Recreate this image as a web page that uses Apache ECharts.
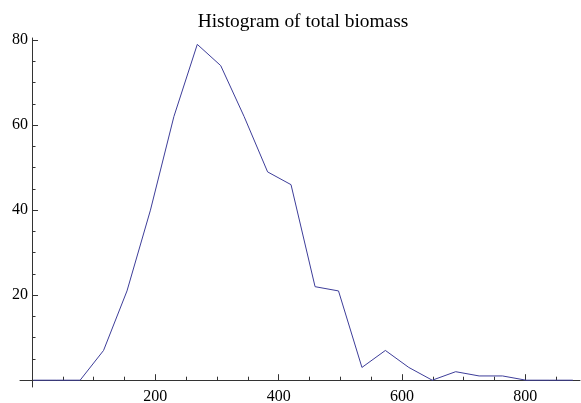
<!DOCTYPE html>
<html>
<head>
<meta charset="utf-8">
<script src="https://cdn.jsdelivr.net/npm/echarts@6/dist/echarts.min.js"></script>
<style>
  html, body { margin: 0; padding: 0; background: #fff; }
  #main { width: 581px; height: 403px; }
</style>
</head>
<body>
<div id="main"></div>
<script>
// bin positions (total biomass) and counts
var binX = [2, 40, 78, 116, 154, 192, 230, 268, 306, 344, 382, 420,
            459, 497, 535, 573, 611, 649, 687, 725, 763, 801, 839, 877];
var counts = [0, 0, 0, 7, 21, 40, 62, 79, 74, 62, 49, 46,
              22, 21, 3, 7, 3, 0, 2, 1, 1, 0, 0, 0];

// tick labels / tick positions
var xMajor = [200, 400, 600, 800];
var xMinor = [50, 100, 150, 250, 300, 350, 450, 500, 550, 650, 700, 750, 850];
var yMajor = [20, 40, 60, 80];
var yMinor = [5, 10, 15, 25, 30, 35, 45, 50, 55, 65, 70, 75];

var axisColor = '#333';
var font = 'Liberation Serif';

var myChart = echarts.init(document.getElementById('main'), null, { renderer: 'canvas' });

var pts = [];
for (var i = 0; i < binX.length; i++) {
  pts.push([binX[i], counts[i]]);
}

// labels sit at the grid edge, not on the zero line, so margins are negative
var option = {
  animation: false,
  title: {
    text: 'Histogram of total biomass',
    left: 298,
    top: 7,
    textAlign: 'center',
    textStyle: { fontFamily: font, fontSize: 19.4, fontWeight: 'normal', color: '#000' }
  },
  grid: { left: 20, right: 1, top: 38, bottom: 16, containLabel: false, outerBoundsMode: 'none' },
  xAxis: [{
    type: 'value',
    min: -19.5,
    max: 888.6,
    position: 'bottom',
    splitLine: { show: false },
    axisLine: { onZero: true, lineStyle: { color: axisColor, width: 1 } },
    axisTick: { inside: true, length: 6, customValues: xMajor, lineStyle: { color: axisColor } },
    axisLabel: { customValues: xMajor, margin: 2, color: '#000', fontFamily: font, fontSize: 16 }
  }, {
    type: 'value',
    min: -19.5,
    max: 888.6,
    position: 'bottom',
    splitLine: { show: false },
    axisLine: { show: false, onZero: true },
    axisTick: { inside: true, length: 3.5, customValues: xMinor, lineStyle: { color: axisColor } },
    axisLabel: { show: false }
  }],
  yAxis: [{
    type: 'value',
    min: -1.6,
    max: 80.5,
    position: 'left',
    splitLine: { show: false },
    axisLine: { onZero: true, lineStyle: { color: axisColor, width: 1 } },
    axisTick: { inside: true, length: 6, customValues: yMajor, lineStyle: { color: axisColor } },
    axisLabel: { customValues: yMajor, margin: -8, color: '#000', fontFamily: font, fontSize: 16 }
  }, {
    type: 'value',
    min: -1.6,
    max: 80.5,
    position: 'left',
    splitLine: { show: false },
    axisLine: { show: false, onZero: true },
    axisTick: { inside: true, length: 3.5, customValues: yMinor, lineStyle: { color: axisColor } },
    axisLabel: { show: false }
  }],
  series: [{
    type: 'line',
    xAxisIndex: 0,
    yAxisIndex: 0,
    data: pts,
    showSymbol: false,
    symbol: 'none',
    lineStyle: { color: '#3d3d99', width: 1 }
  }]
};

myChart.setOption(option);
</script>
</body>
</html>
